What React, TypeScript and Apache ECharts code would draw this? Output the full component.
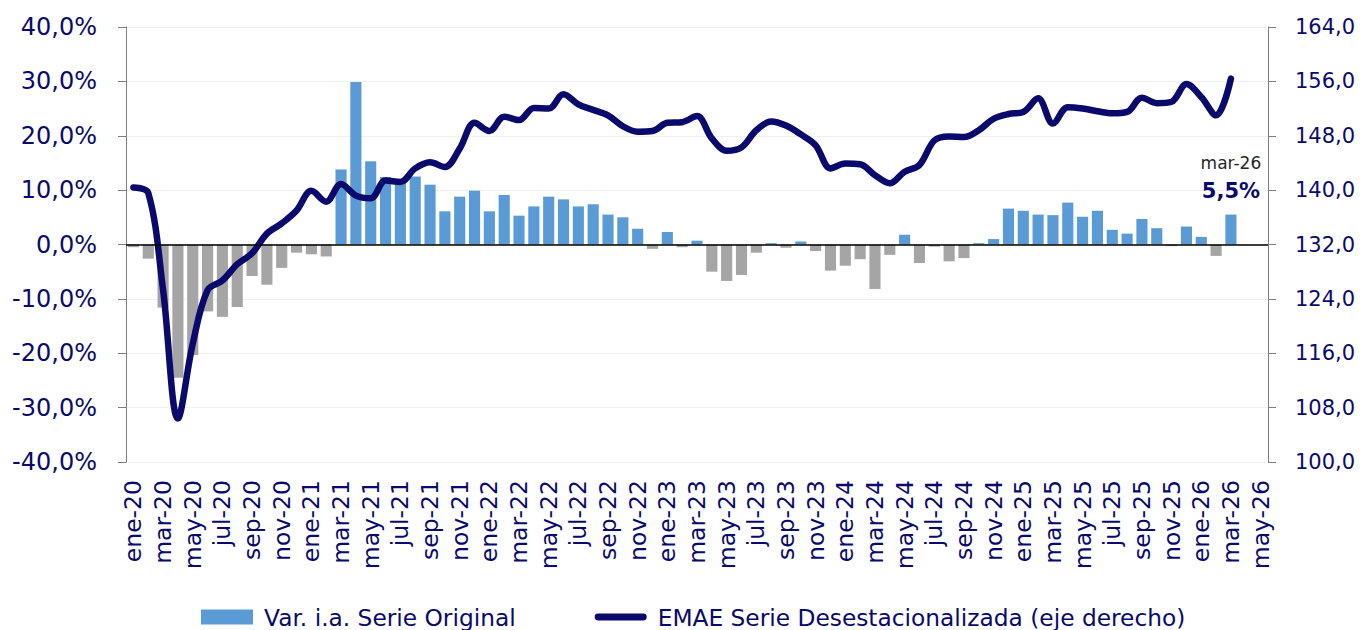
import React, { useEffect, useRef } from "react";
import * as echarts from "echarts";

const MONTHS = ["ene", "feb", "mar", "abr", "may", "jun", "jul", "ago", "sep", "oct", "nov", "dic"];
const YEARS = ["20", "21", "22", "23", "24", "25", "26"];
const LAST_MONTH_INDEX_2026 = 4; // may-26
const categories: string[] = [];
YEARS.forEach((y, yi) => {
  MONTHS.forEach((m, mi) => {
    if (yi === YEARS.length - 1 && mi > LAST_MONTH_INDEX_2026) return;
    categories.push(`${m}-${y}`);
  });
});

const varIA: number[] = [
  -0.5, -2.6, -11.6, -24.5, -20.3, -12.3, -13.3, -11.5, -5.8, -7.4, -4.3, -1.5,
  -1.8, -2.2, 13.8, 29.9, 15.3, 12.4, 11.8, 12.5, 11.0, 6.1, 8.8, 9.9,
  6.1, 9.1, 5.3, 7.0, 8.8, 8.3, 7.0, 7.4, 5.5, 5.0, 2.9, -0.8,
  2.3, -0.5, 0.7, -5.0, -6.7, -5.6, -1.5, 0.25, -0.6, 0.55, -1.2, -4.8,
  -3.9, -2.7, -8.2, -1.9, 1.8, -3.4, -0.4, -3.1, -2.5, 0.25, 1.0, 6.6,
  6.2, 5.5, 5.4, 7.7, 5.1, 6.2, 2.7, 2.0, 4.7, 3.0, -0.3, 3.3,
  1.4, -2.1, 5.5,
];

const emaeDesest: number[] = [
  140.4, 139.6, 125.3, 106.4, 117.4, 125.3, 126.7, 129.1, 130.7, 133.6, 135.1, 137.0,
  139.9, 138.3, 140.9, 139.2, 138.8, 141.4, 141.2, 143.2, 144.1, 143.4, 146.1, 149.9,
  148.7, 150.8, 150.3, 152.1, 152.0, 154.1, 152.6, 151.8, 151.0, 149.4, 148.6, 148.7,
  149.9, 150.0, 150.9, 147.6, 145.8, 146.3, 148.8, 150.1, 149.5, 148.2, 146.6, 143.2,
  143.9, 143.8, 142.2, 141.0, 142.7, 143.7, 147.3, 147.9, 147.8, 148.8, 150.5, 151.2,
  151.5, 153.5, 149.8, 152.2, 152.0, 151.6, 151.3, 151.5, 153.6, 152.8, 153.0, 155.6,
  153.7, 151.0, 156.4,
];

const BAR_NAME = "Var. i.a. Serie Original";
const LINE_NAME = "EMAE Serie Desestacionalizada (eje derecho)";
const NAVY = "#0a0a6c";
const BLUE = "#5b9bd5";
const GRAY = "#a5a5a5";
const FONT = "'DejaVu Sans', sans-serif";
const LINE_ICON =
  "path://M3.5,0 L49.5,0 A3.5,3.5 0 0 1 49.5,7 L3.5,7 A3.5,3.5 0 0 1 3.5,0 Z";

const fmt1 = (v: number) => v.toFixed(1).replace(".", ",");

export default function App() {
  const ref = useRef<HTMLDivElement>(null);
  useEffect(() => {
    if (!ref.current) return;
    const chart = echarts.init(ref.current, undefined, { renderer: "svg" });
    const lastIdx = varIA.length - 1;
    const barData = varIA.map((v, i) => {
      const item: any = { value: v, itemStyle: { color: v < 0 ? GRAY : BLUE } };
      if (i === lastIdx) {
        item.label = {
          show: true,
          position: "top",
          distance: 10,
          formatter: () => `{a|${categories[i]}}\n{b|${fmt1(v)}%}`,
          rich: {
            a: { fontFamily: FONT, fontSize: 17, color: "#262626", lineHeight: 28, align: "center" },
            b: { fontFamily: FONT, fontSize: 21, fontWeight: "bold", color: NAVY, lineHeight: 28, align: "center" },
          },
        };
      }
      return item;
    });

    chart.setOption({
      animation: false,
      textStyle: { fontFamily: FONT },
      grid: { left: 126, right: 103, top: 27, bottom: 168, containLabel: false },
      legend: {
        top: 598,
        left: 196,
        itemGap: 79,
        itemWidth: 52,
        itemHeight: 15,
        textStyle: { fontFamily: FONT, fontSize: 23.3, color: NAVY, lineHeight: 28, padding: [0, 0, 0, 6] },
        data: [
          { name: BAR_NAME, icon: "rect" },
          { name: LINE_NAME, icon: LINE_ICON },
        ],
      },
      xAxis: {
        type: "category",
        data: categories,
        boundaryGap: true,
        axisLine: { show: true, lineStyle: { color: "#e6e6e6" } },
        axisTick: { show: false },
        axisLabel: {
          interval: 1,
          rotate: 90,
          fontFamily: FONT,
          fontSize: 23.5,
          color: NAVY,
          margin: 18,
        },
      },
      yAxis: [
        {
          type: "value",
          min: -40,
          max: 40,
          interval: 10,
          axisLine: { show: true, lineStyle: { color: "#7f7f7f" } },
          axisTick: { show: true, length: 8, lineStyle: { color: "#7f7f7f" } },
          splitLine: { show: true, lineStyle: { color: "#f0f0f0", width: 1 } },
          axisLabel: {
            formatter: (v: number) => `${fmt1(v)}%`,
            fontFamily: FONT,
            fontSize: 24,
            color: NAVY,
            margin: 29,
          },
        },
        {
          type: "value",
          min: 100,
          max: 164,
          interval: 8,
          position: "right",
          axisLine: { show: true, lineStyle: { color: "#7f7f7f" } },
          axisTick: { show: true, length: 8, lineStyle: { color: "#7f7f7f" } },
          splitLine: { show: false },
          axisLabel: {
            formatter: (v: number) => fmt1(v),
            fontFamily: FONT,
            fontSize: 21,
            color: NAVY,
            margin: 27,
          },
        },
      ],
      series: [
        {
          name: BAR_NAME,
          type: "bar",
          yAxisIndex: 0,
          data: barData,
          barWidth: "75%",
          itemStyle: { color: BLUE },
          markLine: {
            silent: true,
            symbol: "none",
            label: { show: false },
            lineStyle: { color: "#000", width: 1.5, type: "solid" },
            data: [{ yAxis: 0 }],
          },
          z: 2,
        },
        {
          name: LINE_NAME,
          type: "line",
          yAxisIndex: 1,
          data: emaeDesest,
          smooth: 0.35,
          symbol: "none",
          lineStyle: { color: NAVY, width: 6.5, cap: "round", join: "round" },
          itemStyle: { color: NAVY, borderWidth: 0 },
          z: 3,
        },
      ],
    });
    return () => chart.dispose();
  }, []);

  return (
    <div
      ref={ref}
      style={{ position: "fixed", left: 0, top: 0, width: 1371, height: 630, background: "#fff" }}
    />
  );
}
